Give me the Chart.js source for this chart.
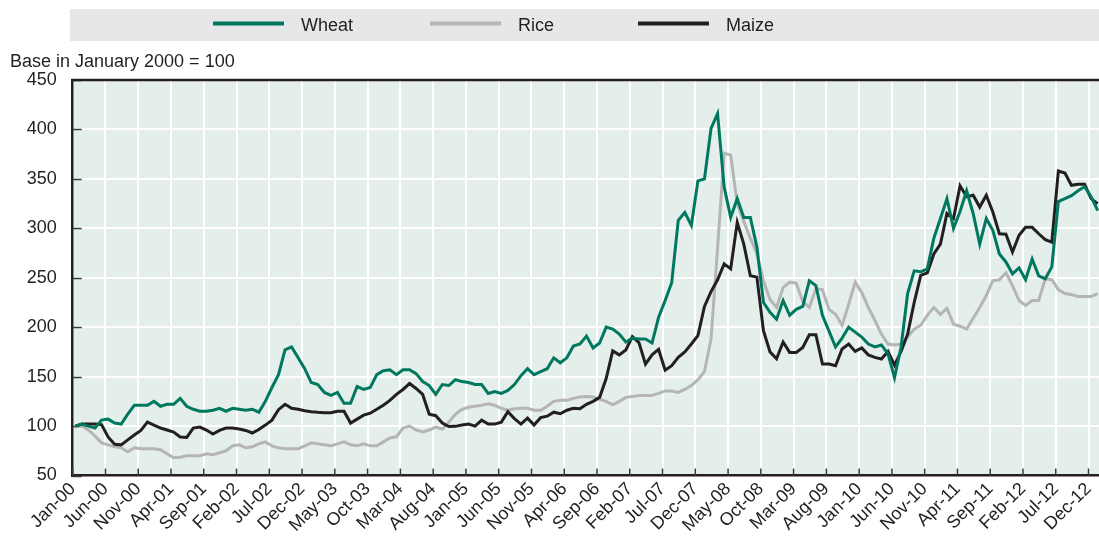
<!DOCTYPE html>
<html>
<head>
<meta charset="utf-8">
<script src="https://cdn.jsdelivr.net/npm/chart.js@4.4.1/dist/chart.umd.min.js"></script>
<style>
html,body{margin:0;padding:0;background:#ffffff;}
canvas{display:block;}
</style>
</head>
<body>
<canvas id="c" width="1099" height="536"></canvas>
<script>
// ---------- DATA ----------
const monthNames = ['Jan','Feb','Mar','Apr','May','Jun','Jul','Aug','Sep','Oct','Nov','Dec'];
const years = ['00','01','02','03','04','05','06','07','08','09','10','11','12','13'];
// categories: Jan-00 ... Jan-13 (157 months)
const months = [];
years.forEach(y => monthNames.forEach(m => months.push(m + '-' + y)));
months.length = 157;

const xTickLabels = ['Jan-00','Jun-00','Nov-00','Apr-01','Sep-01','Feb-02','Jul-02','Dec-02','May-03','Oct-03',
  'Mar-04','Aug-04','Jan-05','Jun-05','Nov-05','Apr-06','Sep-06','Feb-07','Jul-07','Dec-07','May-08','Oct-08',
  'Mar-09','Aug-09','Jan-10','Jun-10','Nov-10','Apr-11','Sep-11','Feb-12','Jul-12','Dec-12'];
const yTickValues = [50,100,150,200,250,300,350,400,450];

const wheat = [
100,102,100,98,106,107,103,102,112,121,
121,121,125,120,122,122,128,120,117,115,
115,116,118,115,118,117,116,117,114,125,
139,152,177,180,169,158,144,142,134,131,
134,123,123,140,137,139,152,156,157,152,
157,157,153,145,141,132,142,141,147,145,
144,142,142,133,135,133,136,142,151,158,
152,155,158,169,164,169,181,183,191,179,
184,200,198,193,185,189,188,188,184,210,
227,245,308,316,303,348,350,401,416,342,
311,330,311,311,281,225,215,208,227,212,
218,221,247,242,212,196,180,189,200,195,
190,183,180,182,173,149,180,234,257,256,
259,290,310,330,300,317,338,315,284,310,
298,274,266,254,260,248,269,252,249,261,
327,330,333,338,342,332,318];

const rice = [
100,100,96,90,83,81,79,78,74,78,
77,77,77,76,72,68,68.5,70,70,70,
72,71,73,75,80,81,78,79,82,84,
80,78,77,77,77,80,83,82,81,80,
82,84,81,80,82,80,80,84,88,89,
98,100,96,94,96,99,97,104,112,117,
119,120,121,122.5,121,118,116,117.5,118,118,
116,116,120,125,126,126,128,129.5,130,129.5,
127,125,121.5,125,129,130,131,131,131,133,
135.5,135.5,134,137,141,147,155,188,280,376,
374,325,307,290,274,247,228,220,240,245.5,
244.5,226,220,239,238,218,213,202,223,245.5,
235,220,207,193,183,182,183,190,198,202,
212,220,213,219,203,201,198,209,220,232,
247,248,255,242,227,222,227,227,249,248,
238,234,233,231,231,231,234];

const maize = [
100,102,102,102,101.5,89,81.5,81,86,91,
95.6,104,101,98,96,94,89,88.5,98,99,
96,92,95.6,98,98,97,95.6,93,96.5,101,
106,116.6,122,118,117,115.5,114.5,113.9,113.5,113.5,
115,115,103,107,111,113,117,121,126,132,
137,143,138,132,112,110.5,103,99.5,99.7,101,
102,100,106,102,102,104,114.5,107.5,102,108,
101,108.5,110,114,112.5,116,118,117.5,122,125,
129,148,176,172,177,190.5,184.5,162.7,172,177.5,
156.5,161,169.5,175,183,191.5,221,236,248,264,
259,306,284,252,250.6,196.5,175,168,185,174.5,
174.5,179.5,192.4,192.4,162.7,162.7,161,178,183,175.5,
179,172,169.5,167.8,175.5,161.5,175.5,193,225,252.5,
255,274,284,315,310,343,332,333.5,321.5,333.5,
316.5,294.5,294,276,293,301,301,294.5,288.5,286,
358,356,343.5,344.5,344.5,330,325];

const seriesNames = ['Wheat','Rice','Maize'];
const yAxisNote = 'Base in January 2000 = 100';

// ---------- BUILD ----------
const FONT = "'Liberation Sans', Arial, sans-serif";
const INK = '#231f20';
const colors = { Wheat: '#00785f', Rice: '#b5b5b5', Maize: '#231f20' };
const monthShift = 0.4; // points sit slightly right of month ticks
const toPts = arr => arr.map((v, i) => ({ x: i + monthShift, y: v }));
const tickMonths = xTickLabels.map(l => months.indexOf(l));

const decor = {
  id: 'decor',
  beforeDraw(chart) {
    const { ctx, chartArea: a } = chart;
    ctx.save();
    ctx.fillStyle = '#e4eeea';
    ctx.fillRect(a.left, a.top, a.right - a.left, a.bottom - a.top);
    ctx.restore();
  },
  beforeDatasetsDraw(chart) {
    const { ctx, chartArea: a, scales: { x, y } } = chart;
    ctx.save();
    ctx.strokeStyle = '#3a3a3a';
    ctx.lineWidth = 1.5;
    y.ticks.forEach(t => {
      const py = Math.round(y.getPixelForValue(t.value)) + 0.5;
      ctx.beginPath(); ctx.moveTo(a.left, py); ctx.lineTo(a.left + 9, py); ctx.stroke();
    });
    x.ticks.forEach(t => {
      const px = x.getPixelForValue(t.value);
      ctx.beginPath(); ctx.moveTo(px, a.bottom); ctx.lineTo(px, a.bottom - 7); ctx.stroke();
    });
    ctx.strokeStyle = INK;
    ctx.lineWidth = 2.5;
    ctx.beginPath(); ctx.moveTo(a.left - 1.2, a.top); ctx.lineTo(a.right, a.top); ctx.stroke();
    ctx.restore();
  },
  afterDraw(chart) {
    const { ctx } = chart;
    ctx.save();
    // legend band
    ctx.fillStyle = '#e6e7e8';
    ctx.fillRect(70, 9, 1029, 32);
    const legendX = [213, 430, 638];
    chart.data.datasets.forEach((ds, i) => {
      const lx = legendX[seriesNames.indexOf(ds.label)];
      ctx.strokeStyle = ds.borderColor;
      ctx.lineWidth = 4;
      ctx.beginPath(); ctx.moveTo(lx, 23.5); ctx.lineTo(lx + 71, 23.5); ctx.stroke();
      ctx.fillStyle = INK;
      ctx.font = '18px ' + FONT;
      ctx.textBaseline = 'alphabetic';
      ctx.textAlign = 'left';
      ctx.fillText(ds.label, lx + 88, 31);
    });
    // axis note
    ctx.font = '18px ' + FONT;
    ctx.fillStyle = INK;
    ctx.fillText(yAxisNote, 10, 66.5);
    ctx.restore();
  }
};

const ds = (name, data, order) => ({
  label: name,
  data: toPts(data),
  borderColor: colors[name],
  backgroundColor: colors[name],
  borderWidth: 3,
  pointRadius: 0,
  tension: 0,
  order: order
});

new Chart(document.getElementById('c'), {
  type: 'line',
  data: {
    datasets: [ds('Wheat', wheat, 0), ds('Rice', rice, 2), ds('Maize', maize, 1)]
  },
  options: {
    responsive: false,
    animation: false,
    devicePixelRatio: 1,
    layout: { padding: { top: 80, left: 0, right: 0, bottom: 0 } },
    plugins: { legend: { display: false }, tooltip: { enabled: false }, title: { display: false } },
    scales: {
      x: {
        type: 'linear',
        min: 0,
        max: 156.6,
        afterBuildTicks: s => { s.ticks = tickMonths.map(v => ({ value: v })); },
        afterFit: s => { s.height = 60.5; s.paddingLeft = 0; s.paddingRight = 0; },
        ticks: {
          autoSkip: false,
          maxRotation: 45,
          minRotation: 45,
          padding: 3,
          color: INK,
          font: { family: FONT, size: 18 },
          callback: v => xTickLabels[tickMonths.indexOf(v)] || ''
        },
        grid: { color: '#ffffff', lineWidth: 2, drawTicks: false },
        border: { display: true, color: INK, width: 2.5 }
      },
      y: {
        type: 'linear',
        min: 50,
        max: 450,
        afterBuildTicks: s => { s.ticks = yTickValues.map(v => ({ value: v })); },
        afterFit: s => { s.width = 72.7; },
        ticks: {
          padding: 16,
          color: INK,
          font: { family: FONT, size: 18 }
        },
        grid: { color: '#ffffff', lineWidth: 2, drawTicks: false },
        border: { display: true, color: INK, width: 2.5 }
      }
    }
  },
  plugins: [decor]
});
</script>
</body>
</html>
